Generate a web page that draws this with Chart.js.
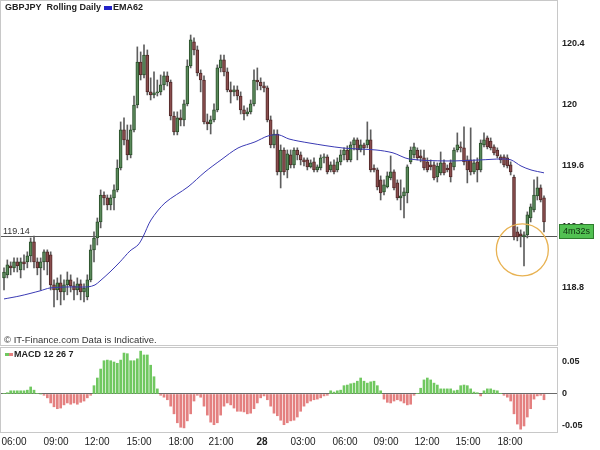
<!DOCTYPE html>
<html>
<head>
<meta charset="utf-8">
<script src="https://cdn.jsdelivr.net/npm/chart.js@4.4.0/dist/chart.umd.min.js"></script>
<style>
  html, body { margin:0; padding:0; background:#fff; }
  #wrap { position:relative; width:600px; height:450px; }
  canvas { position:absolute; left:0; }
  #main { top:0; }
  #macd { top:347px; }
</style>
</head>
<body>
<div id="wrap">
  <canvas id="main" width="600" height="347"></canvas>
  <canvas id="macd" width="600" height="103"></canvas>
</div>
<script>
// ---------------------------
// Data (15 min candles, bar index on x)
// ---------------------------
const opens = [
  118.866,118.886,118.945,118.932,118.971,118.919,118.971,118.971,119.010,119.102,
  118.971,118.932,118.971,119.037,119.017,118.820,118.787,118.833,118.774,118.820,
  118.853,118.814,118.787,118.827,118.774,118.741,118.853,119.050,119.128,119.233,
  119.410,119.391,119.345,119.391,119.443,119.587,119.837,119.771,119.673,119.837,
  120.000,120.282,120.197,120.328,120.086,120.066,120.079,120.086,120.132,120.191,
  120.151,119.928,119.823,119.915,119.902,120.007,120.256,120.414,120.361,120.210,
  120.164,119.889,119.876,119.902,119.968,120.243,120.296,120.217,120.099,120.086,
  120.099,120.059,119.968,119.941,119.955,120.007,120.164,120.151,120.125,120.112,
  119.902,119.738,119.810,119.561,119.705,119.574,119.673,119.607,119.705,119.673,
  119.640,119.640,119.594,119.627,119.574,119.587,119.653,119.660,119.574,119.607,
  119.574,119.627,119.673,119.705,119.640,119.738,119.771,119.705,119.738,119.738,
  119.771,119.587,119.574,119.509,119.430,119.463,119.522,119.561,119.489,119.391,
  119.404,119.423,119.627,119.673,119.705,119.666,119.653,119.627,119.607,119.607,
  119.528,119.555,119.620,119.587,119.620,119.594,119.705,119.725,119.719,119.640,
  119.640,119.561,119.627,119.574,119.738,119.784,119.764,119.725,119.705,119.660,
  119.660,119.653,119.607,119.528,119.168,119.155,119.135,119.148,119.259,119.312,
  119.404,119.456,119.391
];
const highs = [
  118.932,118.984,118.971,118.997,118.997,118.997,119.017,119.037,119.128,119.141,
  118.997,118.997,119.050,119.050,119.037,118.853,118.866,118.886,118.853,118.905,
  118.886,118.840,118.866,118.853,118.827,118.886,119.082,119.168,119.259,119.443,
  119.430,119.410,119.410,119.476,119.640,119.889,119.915,119.869,119.869,120.059,
  120.381,120.348,120.394,120.361,120.178,120.217,120.164,120.197,120.217,120.217,
  120.164,119.955,119.955,119.968,120.033,120.296,120.459,120.440,120.387,120.230,
  120.191,119.941,119.928,120.007,120.263,120.328,120.328,120.243,120.151,120.125,
  120.125,120.086,119.994,119.981,120.033,120.230,120.243,120.178,120.151,120.125,
  119.928,119.837,119.837,119.738,119.719,119.705,119.705,119.719,119.719,119.692,
  119.653,119.653,119.640,119.653,119.607,119.673,119.679,119.673,119.627,119.640,
  119.653,119.705,119.719,119.732,119.758,119.784,119.784,119.771,119.751,119.889,
  119.837,119.607,119.587,119.535,119.509,119.561,119.666,119.574,119.509,119.509,
  119.456,119.607,119.725,119.751,119.719,119.705,119.705,119.653,119.640,119.627,
  119.620,119.692,119.640,119.607,119.640,119.719,119.817,119.758,119.856,119.666,
  119.850,119.640,119.653,119.771,119.817,119.797,119.784,119.738,119.719,119.673,
  119.673,119.673,119.627,119.541,119.200,119.181,119.168,119.299,119.351,119.509,
  119.528,119.476,119.404
];
const lows = [
  118.787,118.866,118.886,118.905,118.905,118.866,118.919,118.932,118.971,118.932,
  118.886,118.787,118.919,118.886,118.787,118.676,118.722,118.689,118.722,118.755,
  118.774,118.722,118.755,118.722,118.709,118.722,118.840,118.971,119.082,119.194,
  119.345,119.312,119.312,119.312,119.430,119.574,119.738,119.640,119.653,119.823,
  119.981,120.164,120.178,120.066,120.033,120.046,120.059,120.066,120.099,120.125,
  119.902,119.804,119.804,119.863,119.863,119.994,120.243,120.328,120.191,120.086,
  119.876,119.837,119.810,119.889,119.955,120.217,120.191,120.086,120.013,120.059,
  120.033,119.941,119.902,119.928,119.941,119.994,120.099,120.099,120.086,119.889,
  119.719,119.719,119.541,119.456,119.541,119.522,119.587,119.587,119.640,119.607,
  119.600,119.574,119.587,119.561,119.561,119.574,119.620,119.548,119.561,119.548,
  119.561,119.607,119.640,119.627,119.627,119.705,119.640,119.692,119.673,119.719,
  119.561,119.561,119.443,119.377,119.410,119.456,119.509,119.443,119.377,119.312,
  119.259,119.358,119.614,119.653,119.640,119.627,119.574,119.561,119.574,119.509,
  119.495,119.541,119.541,119.561,119.495,119.574,119.692,119.692,119.607,119.489,
  119.541,119.548,119.495,119.561,119.725,119.712,119.705,119.673,119.653,119.620,
  119.594,119.587,119.541,119.115,119.109,119.069,118.945,119.128,119.233,119.299,
  119.377,119.364,119.168
];
const closes = [
  118.905,118.951,118.932,118.971,118.945,118.971,118.958,119.010,119.102,118.971,
  118.932,118.971,119.037,118.971,118.820,118.787,118.833,118.774,118.820,118.853,
  118.814,118.787,118.827,118.774,118.800,118.853,119.050,119.128,119.233,119.410,
  119.391,119.345,119.391,119.443,119.587,119.837,119.771,119.673,119.837,120.000,
  120.282,120.197,120.328,120.086,120.066,120.079,120.086,120.132,120.191,120.151,
  119.928,119.823,119.915,119.902,120.007,120.256,120.427,120.361,120.210,120.164,
  119.889,119.876,119.902,119.968,120.243,120.296,120.217,120.099,120.086,120.099,
  120.059,119.968,119.941,119.955,120.007,120.164,120.151,120.125,120.112,119.902,
  119.738,119.810,119.561,119.705,119.561,119.679,119.607,119.705,119.673,119.640,
  119.627,119.594,119.620,119.574,119.594,119.653,119.660,119.561,119.607,119.561,
  119.627,119.673,119.705,119.640,119.738,119.771,119.705,119.738,119.719,119.771,
  119.574,119.574,119.463,119.423,119.476,119.535,119.561,119.456,119.391,119.404,
  119.430,119.594,119.705,119.725,119.653,119.653,119.587,119.574,119.594,119.522,
  119.600,119.620,119.555,119.574,119.528,119.705,119.738,119.719,119.627,119.574,
  119.561,119.620,119.574,119.751,119.771,119.725,119.719,119.686,119.666,119.640,
  119.607,119.600,119.561,119.135,119.135,119.141,119.148,119.279,119.332,119.410,
  119.456,119.377,119.233
];

// EMA62 (bar index, price)
const emaIdx = [0,4.8,10.8,13.8,19.8,25.2,27.3,28.8,31.8,34.8,37.8,40.2,41.7,44.1,48.3,55.2,60.3,65.1,70.2,75.3,79.2,82.5,85.5,91.5,101.7,111.6,116.7,121.5,132.9,143.1,149.1,152.1,155.1,158.1,162];
const emaVal = [118.728,118.748,118.781,118.800,118.807,118.807,118.820,118.846,118.905,118.971,119.043,119.082,119.135,119.246,119.358,119.463,119.561,119.640,119.718,119.758,119.797,119.804,119.777,119.751,119.718,119.705,119.686,119.646,119.633,119.640,119.646,119.640,119.600,119.574,119.555];

// MACD 12 26 7 histogram
const macd = [
  0.001,0.002,0.005,0.005,0.005,0.005,0.005,0.006,0.011,0.006,
  0.001,0,-0.002,-0.006,-0.014,-0.020,-0.023,-0.022,-0.017,-0.014,
  -0.016,-0.014,-0.016,-0.013,-0.011,-0.006,-0.002,0.013,0.025,0.039,
  0.052,0.053,0.052,0.050,0.048,0.053,0.064,0.063,0.052,0.052,
  0.055,0.067,0.061,0.061,0.045,0.027,0.008,-0.002,-0.005,-0.009,
  -0.019,-0.031,-0.045,-0.052,-0.053,-0.042,-0.031,-0.011,-0.002,-0.005,
  -0.019,-0.033,-0.044,-0.048,-0.045,-0.033,-0.019,-0.014,-0.017,-0.022,
  -0.027,-0.027,-0.028,-0.031,-0.030,-0.023,-0.014,-0.006,-0.003,-0.009,
  -0.019,-0.030,-0.034,-0.041,-0.048,-0.045,-0.042,-0.041,-0.036,-0.027,
  -0.019,-0.014,-0.011,-0.009,-0.008,-0.006,-0.003,-0.002,0.005,0.003,
  0.005,0.006,0.013,0.014,0.016,0.017,0.020,0.025,0.020,0.017,
  0.019,0.020,0.013,0.005,-0.008,-0.013,-0.014,-0.011,-0.009,-0.011,
  -0.014,-0.017,-0.016,-0.002,0.001,0.009,0.022,0.025,0.022,0.017,
  0.014,0.008,0.008,0.008,0.008,0.005,0.006,0.013,0.014,0.013,
  0.008,0.003,0.002,-0.003,0.005,0.008,0.008,0.006,0.005,0.001,
  -0.002,-0.005,-0.011,-0.031,-0.047,-0.055,-0.050,-0.036,-0.023,-0.008,
  -0.003,-0.002,-0.009
];

const timeTickPos    = [3.0,15.6,27.9,40.5,53.1,65.1,77.4,89.7,102.3,114.6,126.9,139.2,151.8];
const timeTickLabels = ['06:00','09:00','12:00','15:00','18:00','21:00','28','03:00','06:00','09:00','12:00','15:00','18:00'];
const priceTicks = [118.8, 119.2, 119.6, 120, 120.4];
const macdTicks  = [-0.05, 0, 0.05];
const refLevel = 119.14;
const refLabel = '119.14';
const timerLabel = '4m32s';
const circleAt = { idx:155.5, price:119.05 };

// ---------------------------
// Styles
// ---------------------------
const FONT = 'Liberation Sans';
const X_MIN = -0.9, X_MAX = 165.9;
const UP_FILL = '#5b8a5b', UP_EDGE = '#2a4f2a';
const DN_FILL = '#8a4e4e', DN_EDGE = '#522828';
const FRAME = '#c8c8c8';
const idx = opens.map((_, i) => i);

function frame(chart){
  const a = chart.chartArea, c = chart.ctx;
  c.save();
  c.strokeStyle = FRAME; c.lineWidth = 1;
  c.strokeRect(Math.round(a.left) - 0.5, Math.round(a.top) - 0.5, Math.round(a.right - a.left) + 1, Math.round(a.bottom - a.top) + 1);
  c.restore();
}
// keep the plot area flush with the canvas edges
function fitRightAxis(s){ s.width = 43; s.paddingTop = 0; s.paddingBottom = 0; }

const mainDecor = {
  id:'mainDecor',
  beforeDatasetsDraw(chart){
    const c = chart.ctx, a = chart.chartArea, y = Math.round(chart.scales.y.getPixelForValue(refLevel)) + 0.5;
    c.save();
    c.strokeStyle = '#555'; c.lineWidth = 1;
    c.beginPath(); c.moveTo(a.left, y); c.lineTo(a.right, y); c.stroke();
    c.restore();
  },
  afterDraw(chart){
    const c = chart.ctx;
    const xs = chart.scales.x, ys = chart.scales.y;
    frame(chart);
    c.save();
    // title + legend
    c.textBaseline = 'middle'; c.textAlign = 'left';
    c.fillStyle = '#222'; c.font = `bold 9px "${FONT}"`;
    c.fillText('GBPJPY  Rolling Daily', 5, 8);
    c.fillStyle = '#2323c8'; c.fillRect(104, 6, 8, 4);
    c.fillStyle = '#222'; c.fillText('EMA62', 113, 8);
    // source
    c.font = `9.5px "${FONT}"`; c.fillStyle = '#333';
    c.fillText('\u00a9 IT-Finance.com Data is Indicative.', 4, 340);
    // level label
    const ly = Math.round(ys.getPixelForValue(refLevel));
    c.font = `9px "${FONT}"`; c.fillStyle = '#333'; c.textBaseline = 'bottom';
    c.fillText(refLabel, 3, ly);
    // timer box (sits over the 119.2 tick label)
    c.fillStyle = '#52c152'; c.fillRect(559, ly - 12, 35, 15);
    c.strokeStyle = '#2e7d2e'; c.lineWidth = 1; c.strokeRect(559.5, ly - 11.5, 34, 14);
    c.fillStyle = '#103010'; c.textBaseline = 'middle'; c.textAlign = 'center';
    c.fillText(timerLabel, 576.5, ly - 4.5);
    // circle
    c.strokeStyle = '#e8b252'; c.lineWidth = 1.3;
    c.beginPath(); c.arc(xs.getPixelForValue(circleAt.idx), ys.getPixelForValue(circleAt.price), 26, 0, Math.PI * 2); c.stroke();
    c.restore();
  }
};

const macdDecor = {
  id:'macdDecor',
  afterDraw(chart){
    const c = chart.ctx;
    frame(chart);
    c.save();
    c.fillStyle = '#70c860'; c.fillRect(5, 6, 4, 3);
    c.fillStyle = '#e48080'; c.fillRect(9, 6, 4, 3);
    c.fillStyle = '#222'; c.font = `bold 9px "${FONT}"`; c.textBaseline = 'middle';
    c.fillText('MACD 12 26 7', 14, 8);
    c.restore();
  }
};

// ---------------------------
// Price chart
// ---------------------------
new Chart(document.getElementById('main'), {
  type:'bar',
  data:{ datasets:[
    { type:'line', label:'EMA62', data: emaIdx.map((x, i) => ({ x, y: emaVal[i] })),
      borderColor:'#3a3ab4', borderWidth:1, pointRadius:0, tension:0.3, order:0 },
    { label:'body', data: idx.map(i => ({ x:i, y:[opens[i], closes[i]] })),
      backgroundColor: c => closes[c.dataIndex] >= opens[c.dataIndex] ? UP_FILL : DN_FILL,
      borderColor: c => closes[c.dataIndex] >= opens[c.dataIndex] ? UP_EDGE : DN_EDGE,
      borderWidth:1, borderSkipped:false, barThickness:3, minBarLength:1, grouped:false, order:1 },
    { label:'wick', data: idx.map(i => ({ x:i, y:[lows[i], highs[i]] })),
      backgroundColor:'#5e5e5e', barThickness:1, grouped:false, order:2 }
  ]},
  options:{
    responsive:false, animation:false, events:[],
    layout:{ padding:{ top:1, left:1, right:0, bottom:2 } },
    plugins:{ legend:{ display:false }, tooltip:{ enabled:false } },
    scales:{
      x:{ type:'linear', min:X_MIN, max:X_MAX, offset:false, display:false },
      y:{ position:'right', min:118.426, max:120.682,
          afterBuildTicks: s => { s.ticks = priceTicks.map(v => ({ value:v })); },
          afterFit: fitRightAxis,
          grid:{ display:false, drawTicks:false }, border:{ color:FRAME },
          ticks:{ padding:5, color:'#222', font:{ family:FONT, size:9, weight:'bold' }, callback: v => String(v) } }
    }
  },
  plugins:[mainDecor]
});

// ---------------------------
// MACD chart
// ---------------------------
new Chart(document.getElementById('macd'), {
  type:'bar',
  data:{ datasets:[
    { label:'MACD', data: idx.map(i => ({ x:i, y:macd[i] })),
      backgroundColor: c => macd[c.dataIndex] >= 0 ? '#70c860' : '#e48080', barThickness:2 }
  ]},
  options:{
    responsive:false, animation:false, events:[],
    layout:{ padding:{ top:1, left:1, right:0, bottom:0 } },
    plugins:{ legend:{ display:false }, tooltip:{ enabled:false } },
    scales:{
      x:{ type:'linear', min:X_MIN, max:X_MAX, offset:false,
          grid:{ display:false, drawTicks:false }, border:{ display:false },
          afterBuildTicks: s => { s.ticks = timeTickPos.map(v => ({ value:v })); },
          afterFit: s => { s.height = 18; s.paddingLeft = 0; s.paddingRight = 0; },
          ticks:{ autoSkip:false, maxRotation:0, padding:4, color:'#222',
                  font: c => ({ family:FONT, size:10, weight: timeTickLabels[c.index] === '28' ? 'bold' : 'normal' }),
                  callback: (v, i) => timeTickLabels[i] } },
      y:{ position:'right', min:-0.0594, max:0.0719,
          afterBuildTicks: s => { s.ticks = macdTicks.map(v => ({ value:v })); },
          afterFit: fitRightAxis,
          grid:{ drawTicks:false, color: c => (c.tick && c.tick.value === 0) ? '#6a6a6a' : 'rgba(0,0,0,0)' },
          border:{ color:FRAME },
          ticks:{ padding:5, color:'#222', font:{ family:FONT, size:9, weight:'bold' }, callback: v => String(v) } }
    }
  },
  plugins:[macdDecor]
});
</script>
</body>
</html>
